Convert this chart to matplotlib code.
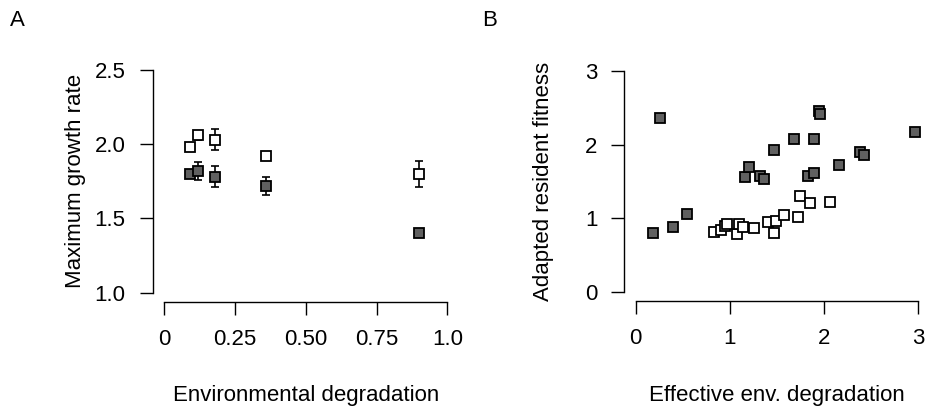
import matplotlib
matplotlib.use("Agg")
import matplotlib.pyplot as plt
import numpy as np

plt.rcParams['font.family'] = ['Liberation Sans', 'DejaVu Sans']

# panel A: maximum growth rate vs environmental degradation
deg = [0.09, 0.12, 0.18, 0.36, 0.90]
growth_white = [1.98, 2.06, 2.03, 1.92, 1.80]
err_white = [0.01, 0.03, 0.07, 0.01, 0.085]
growth_grey = [1.80, 1.82, 1.78, 1.72, 1.40]
err_grey = [0.01, 0.06, 0.07, 0.06, 0.01]

# panel B: adapted resident fitness vs effective degradation
eff_grey = [0.18, 0.26, 0.40, 0.54, 1.16, 1.20, 1.32, 1.36, 1.47, 1.68,
            1.83, 1.89, 1.89, 1.95, 1.96, 2.16, 2.38, 2.42, 2.97]
fit_grey = [0.80, 2.36, 0.89, 1.06, 1.56, 1.70, 1.58, 1.53, 1.92, 2.08,
            1.57, 1.61, 2.07, 2.45, 2.42, 1.72, 1.90, 1.86, 2.17]
eff_white = [0.83, 0.91, 0.95, 0.97, 1.08, 1.10, 1.14, 1.26, 1.40, 1.47,
             1.49, 1.57, 1.72, 1.74, 1.85, 2.06]
fit_white = [0.82, 0.84, 0.90, 0.93, 0.79, 0.93, 0.89, 0.87, 0.95, 0.80,
             0.96, 1.05, 1.02, 1.30, 1.21, 1.22]

GREY = '#606060'
FS = 16

fig = plt.figure(figsize=(9.26, 4.12), dpi=100)
axA = fig.add_axes([0.1649, 0.268, 0.3305, 0.5837])
axB = fig.add_axes([0.6743, 0.269, 0.3296, 0.581])


def style_axis(ax, xticks, xlabels, yticks, ylabels):
    for s in ['top', 'right']:
        ax.spines[s].set_visible(False)
    for s in ['left', 'bottom']:
        ax.spines[s].set_linewidth(1.0)
    ax.spines['bottom'].set_bounds(xticks[0], xticks[-1])
    ax.spines['left'].set_bounds(yticks[0], yticks[-1])
    ax.set_xticks(xticks)
    ax.set_xticklabels(xlabels)
    ax.set_yticks(yticks)
    ax.set_yticklabels(ylabels)
    ax.tick_params(axis='both', length=9.5, width=1.0, labelsize=FS)
    ax.tick_params(axis='x', pad=10)
    ax.tick_params(axis='y', pad=10)
    ax.patch.set_visible(False)


# panel A
axA.errorbar(deg, growth_white, yerr=err_white, fmt='none', ecolor='black',
             elinewidth=1.2, capsize=2.6, capthick=1.2, zorder=2)
axA.errorbar(deg, growth_grey, yerr=err_grey, fmt='none', ecolor='black',
             elinewidth=1.2, capsize=2.6, capthick=1.2, zorder=2)
axA.plot(deg, growth_white, 's', ms=7.2, mfc='white', mec='black', mew=1.3, zorder=3)
axA.plot(deg, growth_grey, 's', ms=7.2, mfc=GREY, mec='black', mew=1.3, zorder=3)
axA.set_xlim(-0.04, 1.04)
axA.set_ylim(0.94, 2.56)
style_axis(axA, [0, 0.25, 0.5, 0.75, 1.0], ['0', '0.25', '0.50', '0.75', '1.0'],
           [1.0, 1.5, 2.0, 2.5], ['1.0', '1.5', '2.0', '2.5'])

# panel B
axB.plot(eff_grey, fit_grey, 's', ms=7.2, mfc=GREY, mec='black', mew=1.3, zorder=3)
axB.plot(eff_white, fit_white, 's', ms=7.2, mfc='white', mec='black', mew=1.3, zorder=3)
axB.set_xlim(-0.12, 3.12)
axB.set_ylim(-0.12, 3.12)
style_axis(axB, [0, 1, 2, 3], ['0', '1', '2', '3'],
           [0, 1, 2, 3], ['0', '1', '2', '3'])

# labels
fig.text(305.7 / 926, 1 - 396 / 412, 'Environmental degradation', ha='center', va='center', fontsize=FS)
fig.text(777 / 926, 1 - 396 / 412, 'Effective env. degradation', ha='center', va='center', fontsize=FS)
fig.text(75 / 926, 1 - 181 / 412, 'Maximum growth rate', ha='center', va='center',
         rotation=90, fontsize=FS)
fig.text(544 / 926, 1 - 181 / 412, 'Adapted resident fitness', ha='center', va='center',
         rotation=90, fontsize=FS)
fig.text(17 / 926, 1 - 20 / 412, 'A', ha='center', va='center', fontsize=FS)
fig.text(490 / 926, 1 - 20 / 412, 'B', ha='center', va='center', fontsize=FS)

fig.savefig('out.png', dpi=100, facecolor='white')
